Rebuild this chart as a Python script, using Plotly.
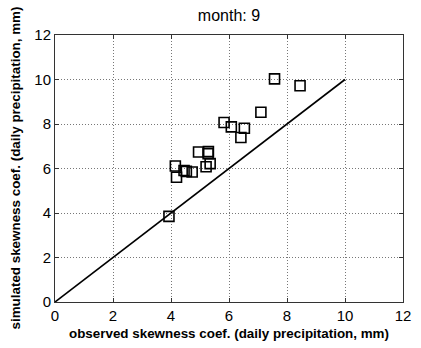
import plotly.graph_objects as go

observed = [3.93, 4.15, 4.19, 4.45, 4.53, 4.73, 4.95, 5.21, 5.28, 5.29, 5.35,
            5.83, 6.08, 6.41, 6.53, 7.10, 7.57, 8.45]
simulated = [3.85, 6.11, 5.61, 5.91, 5.87, 5.84, 6.74, 6.08, 6.67, 6.76, 6.22,
             8.07, 7.87, 7.39, 7.81, 8.53, 10.03, 9.72]
line_x = [0, 10]
line_y = [0, 10]
ticks = [0, 2, 4, 6, 8, 10, 12]
x_title = "observed skewness coef. (daily precipitation, mm)"
y_title = "simulated skewness coef. (daily precipitation, mm)"

fig = go.Figure()
fig.add_trace(go.Scatter(x=line_x, y=line_y, mode="lines",
                         line=dict(color="black", width=1.6), showlegend=False))
fig.add_trace(go.Scatter(x=observed, y=simulated, mode="markers",
                         marker=dict(symbol="square-open", size=10,
                                     color="black", line=dict(width=1.6)),
                         showlegend=False))

axis_common = dict(
    range=[0, 12], tickvals=ticks, ticks="inside", ticklen=4, tickcolor="#333333",
    showgrid=True, gridcolor="#777777", griddash="1px,2px", gridwidth=1,
    showline=True, linecolor="#333333", linewidth=1, mirror="allticks",
    zeroline=False, automargin=False,
    tickfont=dict(family="Liberation Sans, Arial", size=15, color="black"),
)
title_font = dict(family="Liberation Sans, Arial", size=13.4, color="black")
fig.update_layout(
    width=421, height=348,
    margin=dict(l=55, r=18, t=35, b=46),
    paper_bgcolor="white", plot_bgcolor="white",
    title=dict(text="month: 9", xref="paper", x=0.5, xanchor="center", y=0.955, yanchor="middle",
               font=dict(family="Liberation Sans, Arial", size=16, color="black")),
    xaxis=axis_common,
    yaxis=axis_common,
    annotations=[
        dict(text="<b>" + x_title + "</b>", xref="paper", yref="paper", x=0.5, y=0,
             xanchor="center", yanchor="middle", yshift=-31, showarrow=False,
             font=title_font),
        dict(text="<b>" + y_title + "</b>", xref="paper", yref="paper", x=0, y=0.5,
             xanchor="center", yanchor="middle", xshift=-40, textangle=-90,
             showarrow=False, font=title_font),
    ],
)
fig.write_html("out.html")
